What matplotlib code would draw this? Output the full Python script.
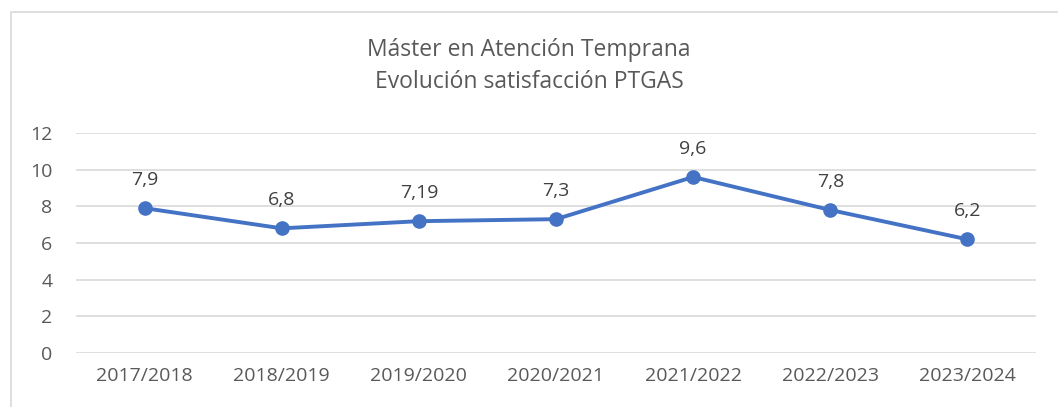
import matplotlib.pyplot as plt
from matplotlib.patches import Rectangle

# Datos
cursos = ["2017/2018", "2018/2019", "2019/2020", "2020/2021", "2021/2022", "2022/2023", "2023/2024"]
satisfaccion = [7.9, 6.8, 7.19, 7.3, 9.6, 7.8, 6.2]
etiquetas = ["7,9", "6,8", "7,19", "7,3", "9,6", "7,8", "6,2"]

plt.rcParams['font.family'] = ['Open Sans', 'DejaVu Sans']

fig = plt.figure(figsize=(10.58, 4.07), dpi=100)
ax = fig.add_axes([0.0718, 0.1327, 0.9074, 0.5405])

x = range(len(cursos))
ax.plot(x, satisfaccion, '-o', color='#4472C4', linewidth=2.8, markersize=9.5, zorder=3)

for xi, yi, lab in zip(x, satisfaccion, etiquetas):
    ax.annotate(lab, (xi, yi), xytext=(0, 14), textcoords='offset points',
                ha='center', va='bottom', fontsize=14, color='#404040')

# Ejes
ax.set_xlim(-0.5, len(cursos) - 0.5)
ax.set_ylim(0, 12)
ax.set_yticks(range(0, 13, 2))
ax.set_xticks(list(x))
ax.set_xticklabels(cursos)
ax.grid(axis='y', color='#D9D9D9', linewidth=1.2)
ax.set_axisbelow(True)
for s in ax.spines.values():
    s.set_visible(False)
ax.tick_params(axis='y', length=0, pad=17, labelsize=14, labelcolor='#595959')
ax.tick_params(axis='x', length=0, pad=10, labelsize=14, labelcolor='#595959')

# Título
fig.text(0.5, 1 - 50 / 407, "Máster en Atención Temprana", ha='center', va='center',
         fontsize=16.5, color='#595959')
fig.text(0.5, 1 - 82 / 407, "Evolución satisfacción PTGAS", ha='center', va='center',
         fontsize=16.5, color='#595959')

# Borde del gráfico
fig.patches.append(Rectangle((11 / 1058, -0.1), 1.2, 1 - 12 / 407 + 0.1, transform=fig.transFigure,
                             fill=False, edgecolor='#D9D9D9', linewidth=1.2))

plt.savefig("out.png", dpi=100)
